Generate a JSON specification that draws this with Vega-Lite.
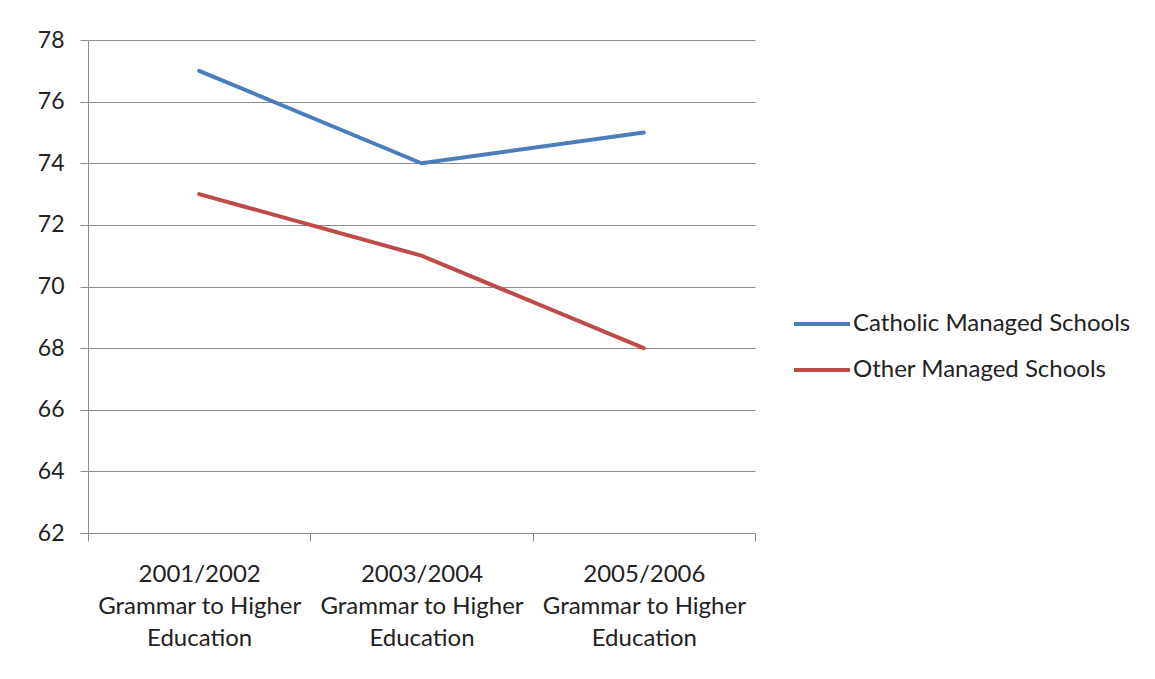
{
  "$schema": "https://vega.github.io/schema/vega-lite/v6.json",
  "width": 667,
  "height": 493,
  "autosize": {"type": "none"},
  "padding": {"left": 88, "top": 40, "right": 400, "bottom": 146},
  "background": "white",
  "config": {"view": {"stroke": null}, "font": "Lato"},
  "data": {"values": [
    {"period": "2001/2002|Grammar to Higher|Education", "series": "Catholic Managed Schools", "value": 77},
    {"period": "2003/2004|Grammar to Higher|Education", "series": "Catholic Managed Schools", "value": 74},
    {"period": "2005/2006|Grammar to Higher|Education", "series": "Catholic Managed Schools", "value": 75},
    {"period": "2001/2002|Grammar to Higher|Education", "series": "Other Managed Schools", "value": 73},
    {"period": "2003/2004|Grammar to Higher|Education", "series": "Other Managed Schools", "value": 71},
    {"period": "2005/2006|Grammar to Higher|Education", "series": "Other Managed Schools", "value": 68}
  ]},
  "mark": {"type": "line", "strokeWidth": 4, "strokeCap": "round", "strokeJoin": "round"},
  "encoding": {
    "x": {
      "field": "period", "type": "ordinal", "title": null,
      "scale": {"type": "band", "paddingInner": 0, "paddingOuter": 0},
      "axis": {
        "labelExpr": "datum.value ? split(datum.value, '|') : ''",
        "labelAngle": 0, "labelFontSize": 24, "labelColor": "#222", "labelLineHeight": 32,
        "labelPadding": 21, "labelBaseline": "top", "labelLimit": 0,
        "tickBand": "extent", "tickSize": 8, "tickColor": "#8c8c8c", "domainColor": "#8c8c8c", "domainWidth": 1, "grid": false
      }
    },
    "y": {
      "field": "value", "type": "quantitative", "title": null,
      "scale": {"domain": [62, 78], "nice": false, "zero": false},
      "axis": {
        "values": [62, 64, 66, 68, 70, 72, 74, 76, 78],
        "labelFontSize": 23, "labelColor": "#222", "labelPadding": 16,
        "tickSize": 8, "tickColor": "#8c8c8c", "gridColor": "#8c8c8c", "domainColor": "#8c8c8c", "grid": true
      }
    },
    "color": {
      "field": "series", "type": "nominal", "title": null,
      "scale": {"domain": ["Catholic Managed Schools", "Other Managed Schools"], "range": ["#4a7ebb", "#be4b48"]},
      "legend": {
        "orient": "none", "legendX": 704, "legendY": 254,
        "symbolType": "stroke", "symbolSize": 3136, "symbolStrokeWidth": 4,
        "labelFontSize": 24, "labelColor": "#222", "rowPadding": 4, "labelOffset": 1, "labelLimit": 0
      }
    }
  }
}
